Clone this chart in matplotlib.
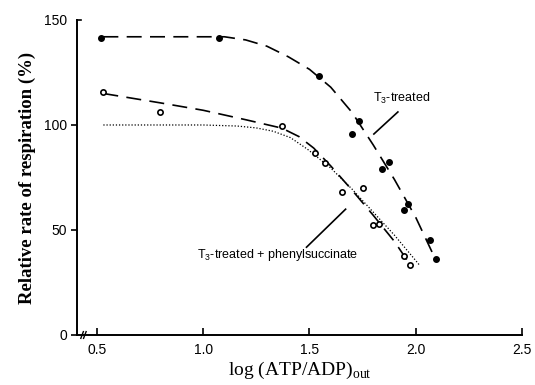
import numpy as np
import matplotlib.pyplot as plt
import matplotlib

# Measured points, T3-treated (filled) and T3-treated + phenylsuccinate (open)
t3_x = [0.52, 1.075, 1.546, 1.734, 1.698, 1.874, 1.842, 1.964, 1.944, 2.068, 2.093]
t3_y = [141.6, 141.6, 123.3, 101.9, 95.7, 82.4, 79.0, 62.4, 59.4, 45.4, 36.0]

ps_x = [0.527, 0.796, 1.373, 1.524, 1.574, 1.754, 1.652, 1.801, 1.826, 1.947, 1.972]
ps_y = [115.7, 106.3, 99.4, 86.5, 82.0, 70.2, 67.9, 52.4, 53.0, 37.6, 33.5]

# Hand-drawn fit curves
t3_fit_x = [0.53, 1.10, 1.20, 1.30, 1.40, 1.50, 1.60, 1.70, 1.80, 1.90, 2.00, 2.093]
t3_fit_y = [142, 142, 140.5, 137.5, 132.5, 126.5, 118, 106, 90.5, 74, 56, 36]

ps_fit_x = [0.53, 0.80, 1.00, 1.20, 1.37, 1.45, 1.52, 1.60, 1.70, 1.80, 1.90, 1.97]
ps_fit_y = [115, 110.5, 107, 102.5, 98.5, 94.5, 89, 80.5, 69, 57, 44.5, 34]

ctrl_fit_x = [0.53, 1.00, 1.16, 1.25, 1.33, 1.41, 1.49, 1.60, 1.70, 1.80, 1.90, 2.02]
ctrl_fit_y = [100, 100, 99.5, 98.6, 97, 94, 88.5, 79.5, 69.5, 58.5, 47.5, 33]

xticks = [0.5, 1.0, 1.5, 2.0, 2.5]
yticks = [0, 50, 100, 150]

fig = plt.figure(figsize=(5.35, 3.85), dpi=100)
ax = fig.add_axes([0.1439, 0.1299, 0.8318, 0.8182])

ax.plot(t3_fit_x, t3_fit_y, color="k", lw=1.2, dashes=(9, 5))
ax.plot(ps_fit_x, ps_fit_y, color="k", lw=1.2, dashes=(9, 5))
ax.plot(ctrl_fit_x, ctrl_fit_y, color="k", lw=0.9, dashes=(1, 1.5))

ax.plot(t3_x, t3_y, "o", color="k", ms=4, ls="none")
ax.plot(ps_x, ps_y, "o", mfc="white", mec="k", mew=1.2, ms=3.8, ls="none")

ax.set_xlim(0.406, 2.5)
ax.set_ylim(0, 150)
ax.spines["top"].set_visible(False)
ax.spines["right"].set_visible(False)
ax.spines["left"].set_linewidth(1.4)
ax.spines["bottom"].set_linewidth(1.4)

ax.set_xticks(xticks)
ax.set_xticklabels(["0.5", "1.0", "1.5", "2.0", "2.5"])
ax.set_yticks(yticks)
ax.tick_params(axis="x", direction="in", length=5, width=1.2, pad=6,
               labelsize=10)
ax.tick_params(axis="y", direction="out", length=4, width=1.2, pad=3,
               labelsize=10)
for lab in ax.get_xticklabels() + ax.get_yticklabels():
    lab.set_fontfamily("Liberation Sans")
ax.yaxis.get_majorticklines()[-2].set_visible(False)

# small inward tick at the top of the y axis
ax.plot([0.406, 0.425], [150, 150], color="k", lw=1.2, clip_on=False)

# axis break on the x axis
for bx in (0.43, 0.443):
    ax.plot([bx - 0.006, bx + 0.006], [-1.6, 1.6], color="k", lw=1.0,
            clip_on=False)

ax.set_ylabel("Relative rate of respiration (%)", family="Liberation Serif",
              fontsize=13.5, fontweight="bold", labelpad=6)
ax.set_xlabel(r"log (ATP/ADP)$_{\mathregular{out}}$", family="Liberation Serif",
              fontsize=14, labelpad=2)

ax.text(1.798, 112.4, r"T$_\mathregular{3}$-treated", family="Liberation Sans",
        fontsize=9, va="center", ha="left")
ax.plot([1.916, 1.803], [106.2, 95.7], color="k", lw=1.2)

ax.text(0.97, 38.1, r"T$_\mathregular{3}$-treated + phenylsuccinate",
        family="Liberation Sans", fontsize=9, va="center", ha="left")
ax.plot([1.670, 1.486], [59.9, 41.8], color="k", lw=1.2)

fig.savefig("out.png", dpi=100)
